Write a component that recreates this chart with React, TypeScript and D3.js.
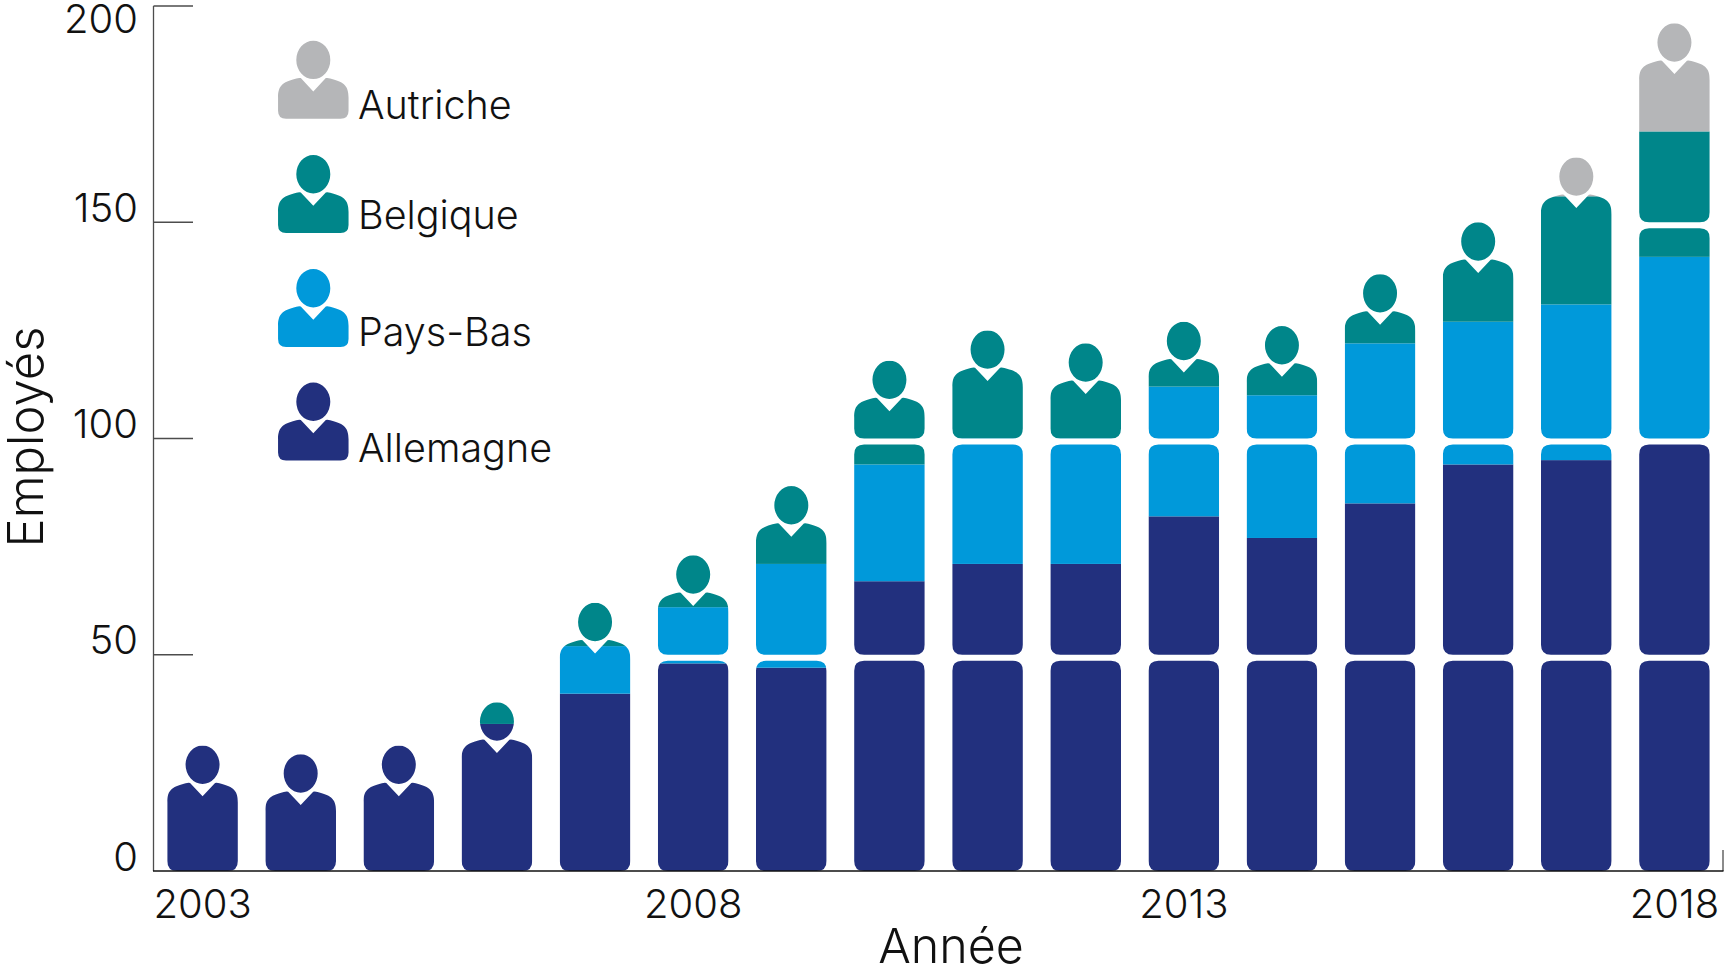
import React from "react";
import * as d3 from "d3";

const years = d3.range(2003, 2019);
const yearLabels = [2003, 2008, 2013, 2018];
const yTicks = [0, 50, 100, 150, 200];
const seriesNames = ["Allemagne", "Pays-Bas", "Belgique", "Autriche"];
const allemagne = [29, 27, 29, 34, 41, 48, 47, 67, 71, 71, 82, 77, 85, 94, 95, 99];
const paysBas = [0, 0, 0, 0, 11, 13, 24, 27, 29, 29, 30, 33, 37, 33, 36, 43];
const belgique = [0, 0, 0, 5, 10, 12, 18, 24, 25, 22, 15, 16, 16, 23, 25, 29];
const autriche = [0, 0, 0, 0, 0, 0, 0, 0, 0, 0, 0, 0, 0, 0, 9, 25];
const colors = ["#22307E", "#0099DA", "#00868A", "#B5B6B8"];
const legendOrder = ["Autriche", "Belgique", "Pays-Bas", "Allemagne"];
const legendTop = [40.7, 155, 269, 382.6];
const legendBaseline = [119, 229, 346, 462];

const FONT = "Inter, sans-serif";
const x = d3.scaleBand<number>().domain(years).range([153.5, 1723.5]).paddingInner(0.28).paddingOuter(0.14);
const y = d3.scaleLinear().domain([0, 200]).range([871, 6]);

const rows = years.map((yr, i) => ({
  year: yr,
  Allemagne: allemagne[i],
  "Pays-Bas": paysBas[i],
  Belgique: belgique[i],
  Autriche: autriche[i],
}));
const stacked = d3.stack<any>().keys(seriesNames)(rows);

const BLOCK = 50;
const BLOCK_FILL = 48.6;
const HEAD_MARGIN = 16;

function roundedBlock(cx: number, w: number, top: number, bottom: number, r: number) {
  const p = d3.path();
  const l = cx - w / 2;
  const t = cx + w / 2;
  p.moveTo(l + r, top);
  p.lineTo(t - r, top);
  p.quadraticCurveTo(t, top, t, top + r);
  p.lineTo(t, bottom - r);
  p.quadraticCurveTo(t, bottom, t - r, bottom);
  p.lineTo(l + r, bottom);
  p.quadraticCurveTo(l, bottom, l, bottom - r);
  p.lineTo(l, top + r);
  p.quadraticCurveTo(l, top, l + r, top);
  p.closePath();
  return p.toString();
}

function person(cx: number, w: number, top: number, bottom: number, r: number) {
  const p = d3.path();
  const hw = w / 2;
  const l = cx - hw;
  const t = cx + hw;
  const neck = top + 37.4;
  const collar = top + 50.7;
  const edge = top + 57;
  p.moveTo(l, edge);
  p.bezierCurveTo(l, top + 44, cx - 30, top + 40.5, cx - 14, top + 37.2);
  p.lineTo(cx - 12.5, neck);
  p.lineTo(cx, collar);
  p.lineTo(cx + 12.5, neck);
  p.lineTo(cx + 14, top + 37.2);
  p.bezierCurveTo(cx + 30, top + 40.5, t, top + 44, t, edge);
  p.lineTo(t, bottom - r);
  p.quadraticCurveTo(t, bottom, t - r, bottom);
  p.lineTo(l + r, bottom);
  p.quadraticCurveTo(l, bottom, l, bottom - r);
  p.closePath();
  const cy = top + 19.2;
  const head = `M${cx - 17},${cy}A17,19.2 0 1,1 ${cx + 17},${cy}A17,19.2 0 1,1 ${cx - 17},${cy}Z`;
  return p.toString() + head;
}

export default function App() {
  const w = x.bandwidth();
  return (
    <svg
      width={1724}
      height={974}
      style={{ position: "absolute", left: 0, top: 0, background: "#fff" }}
      fontFamily={FONT}
      fontWeight={300}
    >
      <defs>
        {years.map((yr, i) => {
          const total = allemagne[i] + paysBas[i] + belgique[i] + autriche[i];
          const cx = x(yr)! + w / 2;
          const k = Math.floor((total - HEAD_MARGIN) / BLOCK);
          const shapes = d3
            .range(k)
            .map((b) => roundedBlock(cx, w, y(b * BLOCK + BLOCK_FILL), y(b * BLOCK), 10))
            .join("");
          return (
            <clipPath id={`bar-${yr}`} key={yr}>
              <path d={shapes + person(cx, w, y(total), y(k * BLOCK), 10)} />
            </clipPath>
          );
        })}
      </defs>

      <g>
        {stacked.map((s, si) => (
          <g key={s.key} fill={colors[si]}>
            {s.map((d, i) =>
              d[1] > d[0] ? (
                <rect
                  key={i}
                  clipPath={`url(#bar-${years[i]})`}
                  x={x(years[i])!}
                  width={w}
                  y={y(d[1])}
                  height={y(d[0]) - y(d[1])}
                />
              ) : null
            )}
          </g>
        ))}
      </g>

      <g stroke="#4d4d4d" strokeWidth={1.3} fill="none">
        <line x1={153.5} x2={153.5} y1={y(200)} y2={y(0)} />
        {yTicks.slice(1).map((t) => (
          <line key={t} x1={153.5} x2={193} y1={y(t)} y2={y(t)} />
        ))}
        <line x1={1723} x2={1723} y1={850} y2={y(0)} />
      </g>
      <line x1={153} x2={1723.5} y1={y(0)} y2={y(0)} stroke="#111" strokeWidth={1.5} />

      <g fontSize={40} fill="#111" textAnchor="end">
        {yTicks.map((t) => (
          <text key={t} x={138} y={t === 200 ? 33 : y(t) - 0.5}>
            {t}
          </text>
        ))}
      </g>
      <g fontSize={40} fill="#111" textAnchor="middle">
        {yearLabels.map((yr) => (
          <text key={yr} x={x(yr)! + w / 2} y={918}>
            {yr}
          </text>
        ))}
      </g>
      <text x={951} y={963} fontSize={48.4} fill="#111" textAnchor="middle">
        Année
      </text>
      <text transform="translate(43,437) rotate(-90)" fontSize={49} fill="#111" textAnchor="middle">
        Employés
      </text>

      <g>
        {legendOrder.map((name, i) => {
          const color = colors[seriesNames.indexOf(name)];
          return (
            <g key={name}>
              <path d={person(313.3, 70.5, legendTop[i], legendTop[i] + 78, 8)} fill={color} />
              <text x={358} y={legendBaseline[i]} fontSize={39.5} fill="#111">
                {name}
              </text>
            </g>
          );
        })}
      </g>
    </svg>
  );
}
